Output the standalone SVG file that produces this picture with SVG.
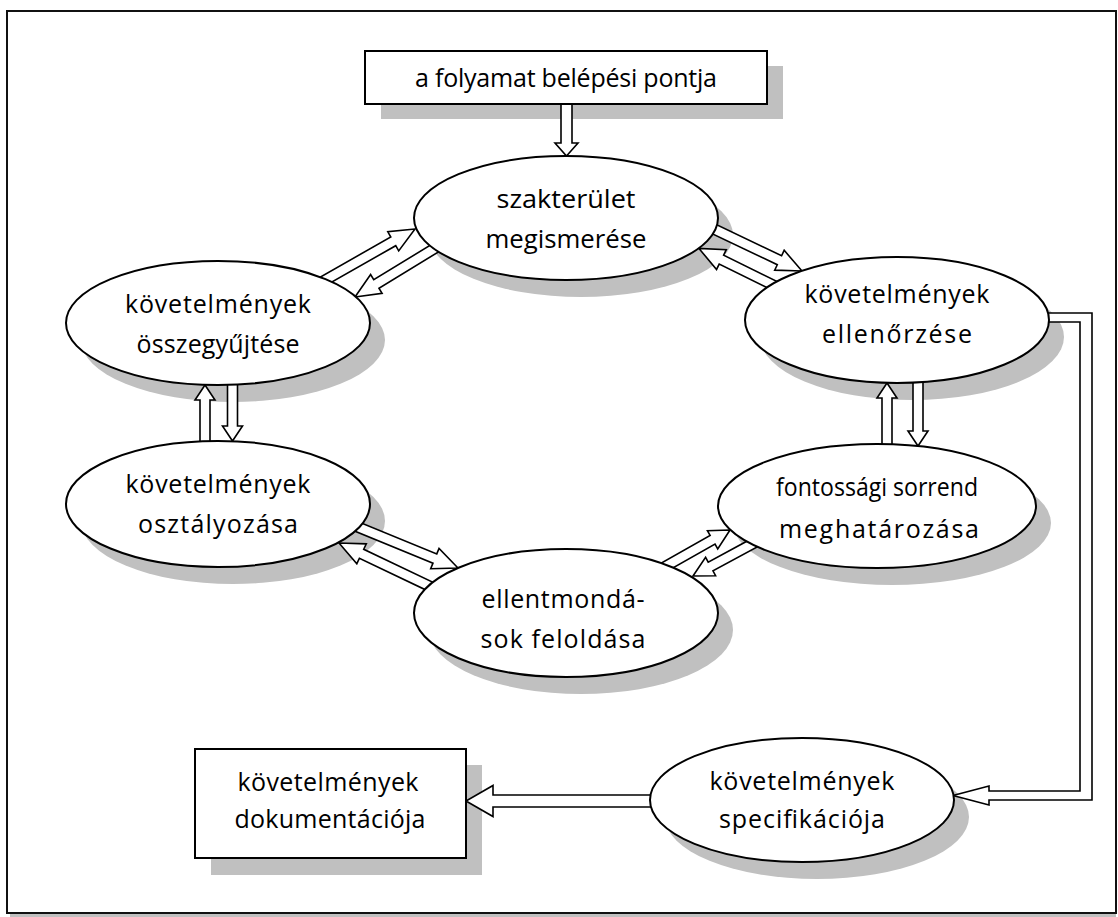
<svg xmlns="http://www.w3.org/2000/svg" width="1118" height="917" viewBox="0 0 1118 917">
<style>
.sh{fill:#c0c0c0;stroke:none}
.nd{fill:#fff;stroke:#000;stroke-width:2}
.ar{fill:#fff;stroke:#000;stroke-width:1.6;stroke-linejoin:miter}
.t{font-family:"Open Sans","Liberation Sans",sans-serif;font-size:25px;fill:#000;text-anchor:middle}
</style>
<rect x="0" y="0" width="1118" height="917" fill="#fff"/>
<g id="frame">
<rect x="10" y="913" width="1106" height="4" fill="#c0c0c0"/>
<rect x="7" y="11" width="1109" height="902" fill="#fff" stroke="#111" stroke-width="2"/>
</g>
<g id="shadows">
<rect class="sh" x="381" y="66" width="402" height="53"/>
<ellipse class="sh" cx="581" cy="235" rx="152" ry="62"/>
<ellipse class="sh" cx="233" cy="340" rx="152" ry="62"/>
<ellipse class="sh" cx="912" cy="337" rx="152" ry="63"/>
<ellipse class="sh" cx="233" cy="521" rx="152" ry="63"/>
<ellipse class="sh" cx="892" cy="523" rx="159" ry="62"/>
<ellipse class="sh" cx="581" cy="630" rx="152" ry="64"/>
<ellipse class="sh" cx="817" cy="817" rx="152" ry="62"/>
<rect class="sh" x="211" y="765" width="271" height="110"/>
</g>
<g id="connectors">
<path class="ar" transform="translate(566.5,156) rotate(90)" d="M0,0 L-13,-11.5 L-13,-5.5 L-56,-5.5 L-56,5.5 L-13,5.5 L-13,11.5 Z"/>
<path class="ar" transform="translate(415,229) rotate(-29.6)" d="M0,0 L-25,-11 L-25,-5 L-113,-5 L-113,5 L-25,5 L-25,11 Z"/>
<path class="ar" transform="translate(355,297) rotate(148.6)" d="M0,0 L-25,-11 L-25,-5 L-102,-5 L-102,5 L-25,5 L-25,11 Z"/>
<path class="ar" transform="translate(802,271) rotate(25.5)" d="M0,0 L-25,-11 L-25,-5 L-106,-5 L-106,5 L-25,5 L-25,11 Z"/>
<path class="ar" transform="translate(699,248.5) rotate(-153.7)" d="M0,0 L-25,-11 L-25,-5 L-95,-5 L-95,5 L-25,5 L-25,11 Z"/>
<path class="ar" transform="translate(232.5,441) rotate(90)" d="M0,0 L-15,-10 L-15,-5 L-66,-5 L-66,5 L-15,5 L-15,10 Z"/>
<path class="ar" transform="translate(205,385) rotate(-90)" d="M0,0 L-15,-10 L-15,-5 L-66,-5 L-66,5 L-15,5 L-15,10 Z"/>
<path class="ar" transform="translate(918,446) rotate(90)" d="M0,0 L-15,-10 L-15,-5 L-74,-5 L-74,5 L-15,5 L-15,10 Z"/>
<path class="ar" transform="translate(887,383) rotate(-90)" d="M0,0 L-15,-10 L-15,-5 L-72,-5 L-72,5 L-15,5 L-15,10 Z"/>
<path class="ar" transform="translate(458,568) rotate(22.3)" d="M0,0 L-25,-11 L-25,-5 L-121,-5 L-121,5 L-25,5 L-25,11 Z"/>
<path class="ar" transform="translate(339,543) rotate(-154.5)" d="M0,0 L-25,-11 L-25,-5 L-107,-5 L-107,5 L-25,5 L-25,11 Z"/>
<path class="ar" transform="translate(730,530) rotate(-29.4)" d="M0,0 L-20,-10.5 L-20,-5 L-77,-5 L-77,5 L-20,5 L-20,10.5 Z"/>
<path class="ar" transform="translate(693,576) rotate(151.6)" d="M0,0 L-20,-10.5 L-20,-5 L-75,-5 L-75,5 L-20,5 L-20,10.5 Z"/>
<path class="ar" d="M1040,313 L1092,313 L1092,800 L989,800 L989,805 L953,795.5 L989,786 L989,791 L1080,791 L1080,322 L1040,322 Z"/>
<path class="ar" transform="translate(466,801) rotate(180)" d="M0,0 L-27,-15.5 L-27,-6 L-194,-6 L-194,6 L-27,6 L-27,15.5 Z"/>
</g>
<g id="entry">
<rect class="nd" x="365" y="51" width="402" height="53"/>
<text class="t" x="566" y="87" textLength="302" lengthAdjust="spacing">a folyamat belépési pontja</text>
</g>
<g id="szakterulet">
<ellipse class="nd" cx="566" cy="218" rx="152" ry="62"/>
<text class="t" x="566" y="208" textLength="139" lengthAdjust="spacingAndGlyphs">szakterület</text>
<text class="t" x="566" y="248" textLength="161" lengthAdjust="spacingAndGlyphs">megismerése</text>
</g>
<g id="osszegyujtes">
<ellipse class="nd" cx="218" cy="323" rx="152" ry="62"/>
<text class="t" x="218" y="313" textLength="186" lengthAdjust="spacing">követelmények</text>
<text class="t" x="218" y="353" textLength="163" lengthAdjust="spacing">összegyűjtése</text>
</g>
<g id="ellenorzes">
<ellipse class="nd" cx="897" cy="320" rx="152" ry="63"/>
<text class="t" x="897" y="303" textLength="185" lengthAdjust="spacing">követelmények</text>
<text class="t" x="897" y="343" textLength="150" lengthAdjust="spacing">ellenőrzése</text>
</g>
<g id="osztalyozas">
<ellipse class="nd" cx="218" cy="504" rx="152" ry="63"/>
<text class="t" x="218" y="493" textLength="185" lengthAdjust="spacing">követelmények</text>
<text class="t" x="218" y="533" textLength="160" lengthAdjust="spacing">osztályozása</text>
</g>
<g id="fontossagi">
<ellipse class="nd" cx="877" cy="506" rx="159" ry="62"/>
<text class="t" x="877" y="496" textLength="202" lengthAdjust="spacingAndGlyphs">fontossági sorrend</text>
<text class="t" x="879" y="538" textLength="200" lengthAdjust="spacing">meghatározása</text>
</g>
<g id="ellentmondasok">
<ellipse class="nd" cx="566" cy="613" rx="152" ry="64"/>
<text class="t" x="563" y="608" textLength="163" lengthAdjust="spacing">ellentmondá-</text>
<text class="t" x="563" y="648" textLength="165" lengthAdjust="spacing">sok feloldása</text>
</g>
<g id="specifikacio">
<ellipse class="nd" cx="802" cy="800" rx="152" ry="62"/>
<text class="t" x="802" y="790" textLength="185" lengthAdjust="spacing">követelmények</text>
<text class="t" x="802" y="828" textLength="166" lengthAdjust="spacing">specifikációja</text>
</g>
<g id="dokumentacio">
<rect class="nd" x="195" y="749" width="271" height="109"/>
<text class="t" x="328" y="791" textLength="181" lengthAdjust="spacing">követelmények</text>
<text class="t" x="330" y="828" textLength="191" lengthAdjust="spacing">dokumentációja</text>
</g>
</svg>
